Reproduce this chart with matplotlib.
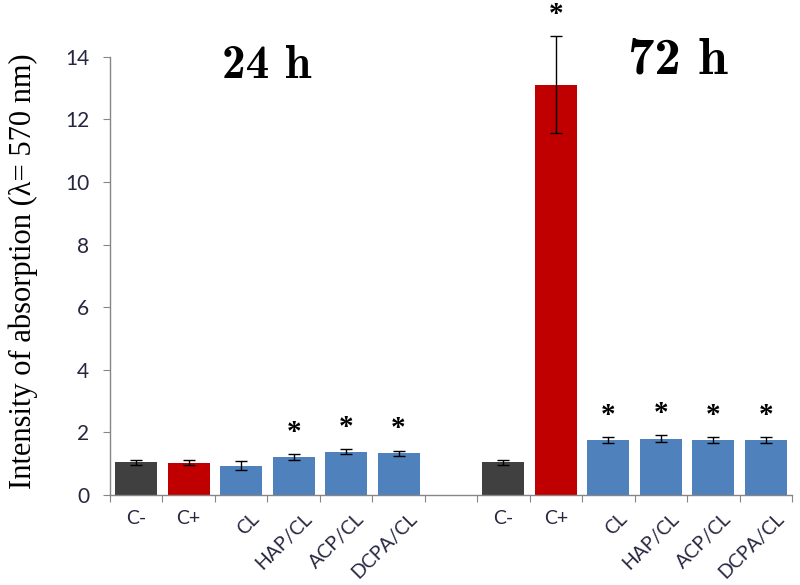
import numpy as np
import matplotlib
matplotlib.use("Agg")
import matplotlib.pyplot as plt
import matplotlib.transforms as mtransforms

# ---- data ----
labels = ["C-", "C+", "CL", "HAP/CL", "ACP/CL", "DCPA/CL"]
means_24 = [1.05, 1.03, 0.93, 1.21, 1.38, 1.33]
err_24 = [0.08, 0.08, 0.14, 0.10, 0.08, 0.08]
means_72 = [1.05, 13.10, 1.75, 1.80, 1.75, 1.75]
err_72 = [0.08, 1.55, 0.10, 0.10, 0.10, 0.10]
sig_24 = [False, False, False, True, True, True]
sig_72 = [False, True, True, True, True, True]
colors = ["#404040", "#C00000", "#4F81BD", "#4F81BD", "#4F81BD", "#4F81BD"]
yticks = [0, 2, 4, 6, 8, 10, 12, 14]

pos_24 = np.arange(6)
pos_72 = np.arange(7, 13)

fig = plt.figure(figsize=(8, 5.85), dpi=100, facecolor="white")
ax = fig.add_axes([0.1375, 0.154, 0.8525, 0.749])

for pos, means, errs in [(pos_24, means_24, err_24), (pos_72, means_72, err_72)]:
    ax.bar(pos, means, width=0.8, color=colors, zorder=2)
    eb = ax.errorbar(pos, means, yerr=errs, fmt="none", ecolor="black",
                     elinewidth=1, capsize=4.5, capthick=1, zorder=3)
    for art in eb.lines[1] + eb.lines[2]:
        art.set_clip_on(False)

# significance stars
for pos, means, errs, sig in [(pos_24, means_24, err_24, sig_24),
                              (pos_72, means_72, err_72, sig_72)]:
    for p, m, e, s in zip(pos, means, errs, sig):
        if s:
            ax.annotate("*", (p, m + e), xytext=(0, 6), textcoords="offset points",
                        ha="center", va="bottom", fontsize=21, fontweight="bold",
                        family="Liberation Serif", annotation_clip=False)

ax.set_xlim(-0.5, 12.5)
ax.set_ylim(0, 14)
ax.set_yticks(yticks)

# category boundaries as ticks, labels at bar centres
ax.set_xticks(np.arange(-0.5, 13, 1))
ax.set_xticklabels([])
ax.set_xticks(np.concatenate([pos_24, pos_72]), minor=True)
ax.set_xticklabels(labels + labels, minor=True)
ax.tick_params(axis="x", which="minor", length=0, pad=11)
ax.tick_params(axis="x", which="major", direction="out", length=5, color="#868686")
ax.tick_params(axis="y", direction="out", length=5, color="#868686",
               labelsize=15, labelcolor="#262640", pad=10)

offset = mtransforms.ScaledTranslation(7 / 72, 0, fig.dpi_scale_trans)
for i, lab in enumerate(ax.get_xticklabels(minor=True)):
    lab.set_fontsize(14)
    lab.set_color("#262640")
    lab.set_family("Lato")
    if i % 6 >= 2:
        lab.set_rotation(45)
        lab.set_ha("right")
        lab.set_va("top")
        lab.set_rotation_mode("anchor")
        lab.set_transform(lab.get_transform() + offset)
for lab in ax.get_yticklabels():
    lab.set_family("Lato")

for side in ["top", "right"]:
    ax.spines[side].set_visible(False)
for side in ["left", "bottom"]:
    ax.spines[side].set_color("#868686")
    ax.spines[side].set_linewidth(1)

ax.set_ylabel("Intensity of absorption (\u03bb= 570 nm)", family="Liberation Serif",
              fontsize=22)
ax.yaxis.set_label_coords(-0.105, 0.51)

fig.text(0.333, 0.888, "24 h", family="cmb10", fontsize=34, ha="center", va="center")
fig.text(0.847, 0.897, "72 h", family="cmb10", fontsize=38, ha="center", va="center")

fig.savefig("out.png", dpi=100, facecolor="white")
